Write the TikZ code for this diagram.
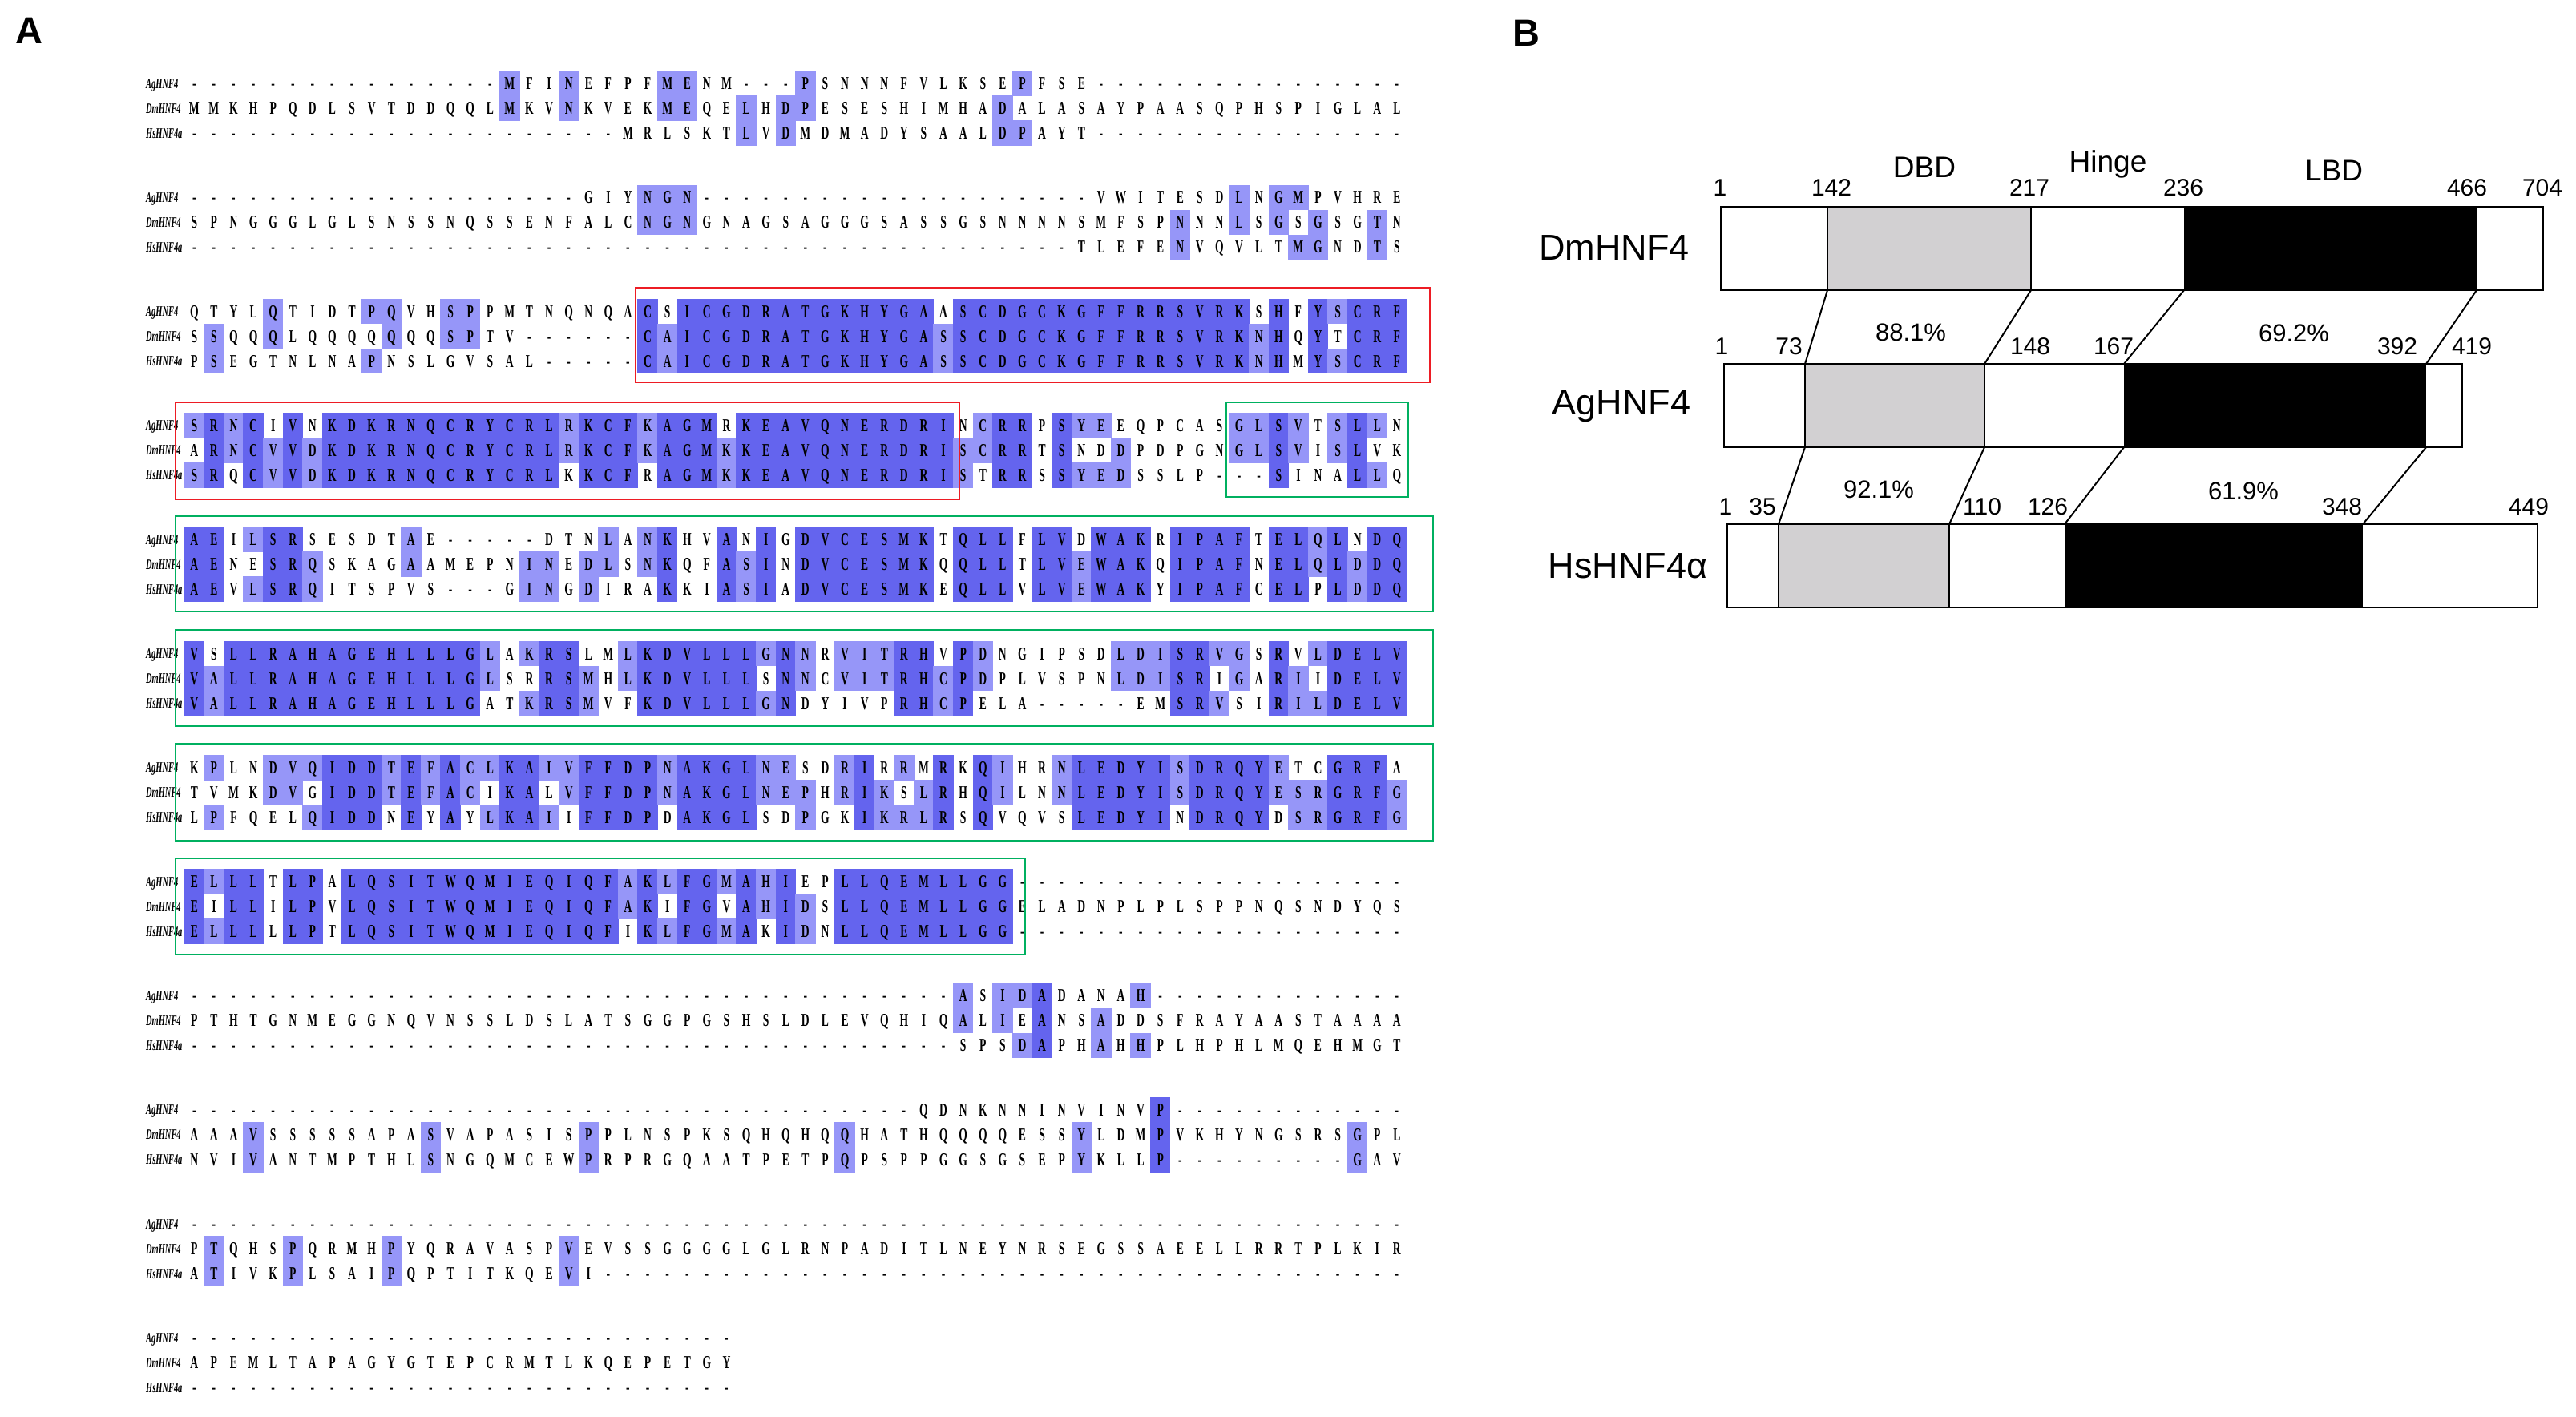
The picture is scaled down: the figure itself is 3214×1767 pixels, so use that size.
\documentclass[tikz,border=0pt]{standalone}
\usepackage{fontspec}
\setmainfont{Liberation Serif}
\newfontfamily\arialfont{Liberation Sans}
\usepackage{graphicx}

\definecolor{pidD}{RGB}{100,100,238}
\definecolor{pidM}{RGB}{150,150,248}
\definecolor{boxred}{RGB}{237,28,36}
\definecolor{boxgreen}{RGB}{0,176,96}
\definecolor{dbdgrey}{RGB}{210,208,210}

\newcommand\seqfont{\fontsize{22.7pt}{22.7pt}\selectfont\bfseries}
\newcommand\namefont{\fontsize{18pt}{18pt}\selectfont\bfseries\itshape}
\newcommand\AAcell[1]{\makebox[24.6pt][c]{\scalebox{0.6}[1]{#1}}}
\newcommand\seqname[1]{\scalebox{0.58}[1]{#1}}

\tikzset{
  seqrow/.style={anchor=west, inner sep=0pt, outer sep=0pt, font=\seqfont, text height=15pt, text depth=0pt},
  namelbl/.style={anchor=west, inner sep=0pt, font=\namefont, text height=12pt, text depth=0pt},
  cellD/.style={fill=pidD},
  cellM/.style={fill=pidM},
  redbox/.style={draw=boxred, line width=2.6pt},
  greenbox/.style={draw=boxgreen, line width=2.6pt},
  protbox/.style={draw=black, line width=2.6pt, fill=none, inner sep=0pt, outer sep=0pt},
  segline/.style={draw=black, line width=2.2pt},
  linker/.style={draw=black, line width=2pt},
  numlbl/.style={font=\arialfont\fontsize{30pt}{30pt}\selectfont, inner sep=0pt},
  pctlbl/.style={font=\arialfont\fontsize{31pt}{31pt}\selectfont, inner sep=0pt},
  domlbl/.style={font=\arialfont\fontsize{37pt}{37pt}\selectfont, inner sep=0pt},
  protlbl/.style={font=\arialfont\fontsize{45pt}{45pt}\selectfont, inner sep=0pt},
  panellbl/.style={font=\arialfont\bfseries\fontsize{47pt}{47pt}\selectfont, inner sep=0pt}
}

\ExplSyntaxOn
\str_new:N \l__aln_a_str
\str_new:N \l__aln_d_str
\str_new:N \l__aln_h_str
\tl_new:N \l__aln_ca_tl
\tl_new:N \l__aln_cd_tl
\tl_new:N \l__aln_ch_tl
\tl_new:N \l__aln_ra_tl
\tl_new:N \l__aln_rd_tl
\tl_new:N \l__aln_rh_tl
\int_new:N \l__aln_n_int
\tl_const:Nx \c__aln_gap_tl { \tl_to_str:n {-} }
\cs_new:Npn \alngap #1 { \prg_replicate:nn {#1} {-} }

\cs_new_protected:Npn \__aln_shade:Nnn #1#2#3
  {
    \tl_if_empty:NF #1
      {
        \tl_if_eq:NNF #1 \c__aln_gap_tl
          {
            \int_zero:N \l__aln_n_int
            \tl_if_eq:NNT #1 \l__aln_ca_tl { \int_incr:N \l__aln_n_int }
            \tl_if_eq:NNT #1 \l__aln_cd_tl { \int_incr:N \l__aln_n_int }
            \tl_if_eq:NNT #1 \l__aln_ch_tl { \int_incr:N \l__aln_n_int }
            \int_compare:nNnT { \l__aln_n_int } = { 3 }
              { \fill[cellD]~({230+(#2-1)*24.6-0.4},{#3-15.8})~rectangle~({230+(#2)*24.6+0.4},{#3+15.8}); }
            \int_compare:nNnT { \l__aln_n_int } = { 2 }
              { \fill[cellM]~({230+(#2-1)*24.6-0.4},{#3-15.8})~rectangle~({230+(#2)*24.6+0.4},{#3+15.8}); }
          }
      }
  }

\cs_new_protected:Npn \aln_block:nnnnn #1#2#3#4#5
  {
    \str_set:Nx \l__aln_a_str {#3}
    \str_set:Nx \l__aln_d_str {#4}
    \str_set:Nx \l__aln_h_str {#5}
    \tl_clear:N \l__aln_ra_tl
    \tl_clear:N \l__aln_rd_tl
    \tl_clear:N \l__aln_rh_tl
    \int_step_inline:nn { \str_count:N \l__aln_d_str }
      {
        \tl_set:Nx \l__aln_ca_tl { \str_item:Nn \l__aln_a_str {##1} }
        \tl_set:Nx \l__aln_cd_tl { \str_item:Nn \l__aln_d_str {##1} }
        \tl_set:Nx \l__aln_ch_tl { \str_item:Nn \l__aln_h_str {##1} }
        \__aln_shade:Nnn \l__aln_ca_tl {##1} {#2-31}
        \__aln_shade:Nnn \l__aln_cd_tl {##1} {#2}
        \__aln_shade:Nnn \l__aln_ch_tl {##1} {#2+31}
        \tl_put_right:Nx \l__aln_ra_tl { \exp_not:N \AAcell { \l__aln_ca_tl } }
        \tl_put_right:Nx \l__aln_rd_tl { \exp_not:N \AAcell { \l__aln_cd_tl } }
        \tl_put_right:Nx \l__aln_rh_tl { \exp_not:N \AAcell { \l__aln_ch_tl } }
      }
    \node[namelbl]~(agn#1)~at~(182,{#2-31})~{\seqname{AgHNF4}};
    \node[namelbl]~(dmn#1)~at~(182,{#2})~{\seqname{DmHNF4}};
    \node[namelbl]~(hsn#1)~at~(182,{#2+31})~{\seqname{HsHNF4a}};
    \node[seqrow]~(ag#1)~at~(230,{#2-31})~{\l__aln_ra_tl};
    \node[seqrow]~(dm#1)~at~(230,{#2})~{\l__aln_rd_tl};
    \node[seqrow]~(hs#1)~at~(230,{#2+31})~{\l__aln_rh_tl};
  }
\cs_new_eq:NN \AlnBlock \aln_block:nnnnn
\ExplSyntaxOff

\begin{document}
\begin{tikzpicture}[x=1pt,y=-1pt]
\useasboundingbox (0,0) rectangle (3214,1767);
\fill[white] (0,0) rectangle (3214,1767);

% ---------- Panel A ----------
\node[panellbl] (lblA) at (36,38) {A};

\AlnBlock{1}{135}
 {\alngap{16}MFINEFPFMENM\alngap{3}PSNNNFVLKSEPFSE\alngap{16}}
 {MMKHPQDLSVTDDQQLMKVNKVEKMEQELHDPESESHIMHADALASAYPAASQPHSPIGLAL}
 {\alngap{22}MRLSKTLVDMDMADYSAALDPAYT\alngap{16}}

\AlnBlock{2}{277.3}
 {\alngap{20}GIYNGN\alngap{20}VWITESDLNGMPVHRE}
 {SPNGGGLGLSNSSNQSSENFALCNGNGNAGSAGGGSASSGSNNNNSMFSPNNNLSGSGSGTN}
 {\alngap{45}TLEFENVQVLTMGNDTS}

\AlnBlock{3}{419.6}
 {QTYLQTIDTPQVHSPPMTNQNQACSICGDRATGKHYGAASCDGCKGFFRRSVRKSHFYSCRF}
 {SSQQQLQQQQQQQSPTV\alngap{6}CAICGDRATGKHYGASSCDGCKGFFRRSVRKNHQYTCRF}
 {PSEGTNLNAPNSLGVSAL\alngap{5}CAICGDRATGKHYGASSCDGCKGFFRRSVRKNHMYSCRF}

\AlnBlock{4}{561.9}
 {SRNCIVNKDKRNQCRYCRLRKCFKAGMRKEAVQNERDRINCRRPSYEEQPCASGLSVTSLLN}
 {ARNCVVDKDKRNQCRYCRLRKCFKAGMKKEAVQNERDRISCRRTSNDDPDPGNGLSVISLVK}
 {SRQCVVDKDKRNQCRYCRLKKCFRAGMKKEAVQNERDRISTRRSSYEDSSLP\alngap{3}SINALLQ}

\AlnBlock{5}{704.2}
 {AEILSRSESDTAE\alngap{5}DTNLANKHVANIGDVCESMKTQLLFLVDWAKRIPAFTELQLNDQ}
 {AENESRQSKAGAAMEPNINEDLSNKQFASINDVCESMKQQLLTLVEWAKQIPAFNELQLDDQ}
 {AEVLSRQITSPVS\alngap{3}GINGDIRAKKIASIADVCESMKEQLLVLVEWAKYIPAFCELPLDDQ}

\AlnBlock{6}{846.5}
 {VSLLRAHAGEHLLLGLAKRSLMLKDVLLLGNNRVITRHVPDNGIPSDLDISRVGSRVLDELV}
 {VALLRAHAGEHLLLGLSRRSMHLKDVLLLSNNCVITRHCPDPLVSPNLDISRIGARIIDELV}
 {VALLRAHAGEHLLLGATKRSMVFKDVLLLGNDYIVPRHCPELA\alngap{5}EMSRVSIRILDELV}

\AlnBlock{7}{988.8}
 {KPLNDVQIDDTEFACLKAIVFFDPNAKGLNESDRIRRMRKQIHRNLEDYISDRQYETCGRFA}
 {TVMKDVGIDDTEFACIKALVFFDPNAKGLNEPHRIKSLRHQILNNLEDYISDRQYESRGRFG}
 {LPFQELQIDDNEYAYLKAIIFFDPDAKGLSDPGKIKRLRSQVQVSLEDYINDRQYDSRGRFG}

\AlnBlock{8}{1131.1}
 {ELLLTLPALQSITWQMIEQIQFAKLFGMAHIEPLLQEMLLGG\alngap{20}}
 {EILLILPVLQSITWQMIEQIQFAKIFGVAHIDSLLQEMLLGGELADNPLPLSPPNQSNDYQS}
 {ELLLLLPTLQSITWQMIEQIQFIKLFGMAKIDNLLQEMLLGG\alngap{20}}

\AlnBlock{9}{1273.4}
 {\alngap{39}ASIDADANAH\alngap{13}}
 {PTHTGNMEGGNQVNSSLDSLATSGGPGSHSLDLEVQHIQALIEANSADDSFRAYAASTAAAA}
 {\alngap{39}SPSDAPHAHHPLHPHLMQEHMGT}

\AlnBlock{10}{1415.7}
 {\alngap{37}QDNKNNINVINVP\alngap{12}}
 {AAAVSSSSSAPASVAPASISPPLNSPKSQHQHQQHATHQQQQESSYLDMPVKHYNGSRSGPL}
 {NVIVANTMPTHLSNGQMCEWPRPRGQAATPETPQPSPPGGSGSEPYKLLP\alngap{9}GAV}

\AlnBlock{11}{1558}
 {\alngap{62}}
 {PTQHSPQRMHPYQRAVASPVEVSSGGGGLGLRNPADITLNEYNRSEGSSAEELLRRTPLKIR}
 {ATIVKPLSAIPQPTITKQEVI\alngap{41}}

\AlnBlock{12}{1700.3}
 {\alngap{28}}
 {APEMLTAPAGYGTEPCRMTLKQEPETGY}
 {\alngap{28}}

% region frames
\draw[redbox]   (793,359) rectangle (1784,477);
\draw[redbox]   (219,502) rectangle (1197,623);
\draw[greenbox] (1530,502) rectangle (1757,620);
\draw[greenbox] (219,644) rectangle (1788,763);
\draw[greenbox] (219,786) rectangle (1788,906);
\draw[greenbox] (219,928) rectangle (1788,1049);
\draw[greenbox] (219,1071) rectangle (1279,1191);

% ---------- Panel B ----------
\node[panellbl] (lblB) at (1904,41) {B};

% DmHNF4
\fill[dbdgrey] (2280,258) rectangle (2534,362);
\fill[black]   (2725,258) rectangle (3090,362);
\draw[segline] (2280,258) -- (2280,362) (2534,258) -- (2534,362);
\node[protbox, minimum width=1026pt, minimum height=104pt] (dmbox) at (2660,310) {};
\coordinate (dmb1) at (2280,362);
\coordinate (dmb2) at (2534,362);
\coordinate (dmb3) at (2725,362);
\coordinate (dmb4) at (3090,362);

% AgHNF4
\fill[dbdgrey] (2252,454) rectangle (2476,558);
\fill[black]   (2650,454) rectangle (3027,558);
\draw[segline] (2252,454) -- (2252,558) (2476,454) -- (2476,558);
\node[protbox, minimum width=921pt, minimum height=104pt] (agbox) at (2611.5,506) {};
\coordinate (agt1) at (2252,454);
\coordinate (agt2) at (2476,454);
\coordinate (agt3) at (2650,454);
\coordinate (agt4) at (3027,454);
\coordinate (agb1) at (2252,558);
\coordinate (agb2) at (2476,558);
\coordinate (agb3) at (2650,558);
\coordinate (agb4) at (3027,558);

% HsHNF4a
\fill[dbdgrey] (2219,654) rectangle (2432,758);
\fill[black]   (2576,654) rectangle (2948,758);
\draw[segline] (2219,654) -- (2219,758) (2432,654) -- (2432,758);
\node[protbox, minimum width=1011pt, minimum height=104pt] (hsbox) at (2660.5,706) {};
\coordinate (hst1) at (2219,654);
\coordinate (hst2) at (2432,654);
\coordinate (hst3) at (2576,654);
\coordinate (hst4) at (2948,654);

% connectors
\draw[linker] (dmb1) -- (agt1);
\draw[linker] (dmb2) -- (agt2);
\draw[linker] (dmb3) -- (agt3);
\draw[linker] (dmb4) -- (agt4);
\draw[linker] (agb1) -- (hst1);
\draw[linker] (agb2) -- (hst2);
\draw[linker] (agb3) -- (hst3);
\draw[linker] (agb4) -- (hst4);

% labels
\node[protlbl] (dmlbl) at (2014,309) {DmHNF4};
\node[protlbl] (aglbl) at (2023,507) {AgHNF4};
\node[protlbl] (hslbl) at (2031,706) {HsHNF4α};

\node[domlbl] (dbd) at (2401,209) {DBD};
\node[domlbl] (hinge) at (2630,205) {Hinge};
\node[domlbl] (lbd) at (2912,213) {LBD};

\node[numlbl] (dm1) at (2146,234) {1};
\node[numlbl] (dm142) at (2285,234) {142};
\node[numlbl] (dm217) at (2532,234) {217};
\node[numlbl] (dm236) at (2724,234) {236};
\node[numlbl] (dm466) at (3078,234) {466};
\node[numlbl] (dm704) at (3172,234) {704};

\node[numlbl] (agn1x) at (2148,432) {1};
\node[numlbl] (ag73) at (2232,432) {73};
\node[numlbl] (ag148) at (2533,432) {148};
\node[numlbl] (ag167) at (2637,432) {167};
\node[numlbl] (ag392) at (2991,432) {392};
\node[numlbl] (ag419) at (3084,432) {419};

\node[numlbl] (hsn1x) at (2153,632) {1};
\node[numlbl] (hs35) at (2199,632) {35};
\node[numlbl] (hs110) at (2473,632) {110};
\node[numlbl] (hs126) at (2555,632) {126};
\node[numlbl] (hs348) at (2922,632) {348};
\node[numlbl] (hs449) at (3155,632) {449};

\node[pctlbl] (p881) at (2384,415) {88.1\%};
\node[pctlbl] (p692) at (2862,416) {69.2\%};
\node[pctlbl] (p921) at (2344,611) {92.1\%};
\node[pctlbl] (p619) at (2799,613) {61.9\%};
\end{tikzpicture}
\end{document}
